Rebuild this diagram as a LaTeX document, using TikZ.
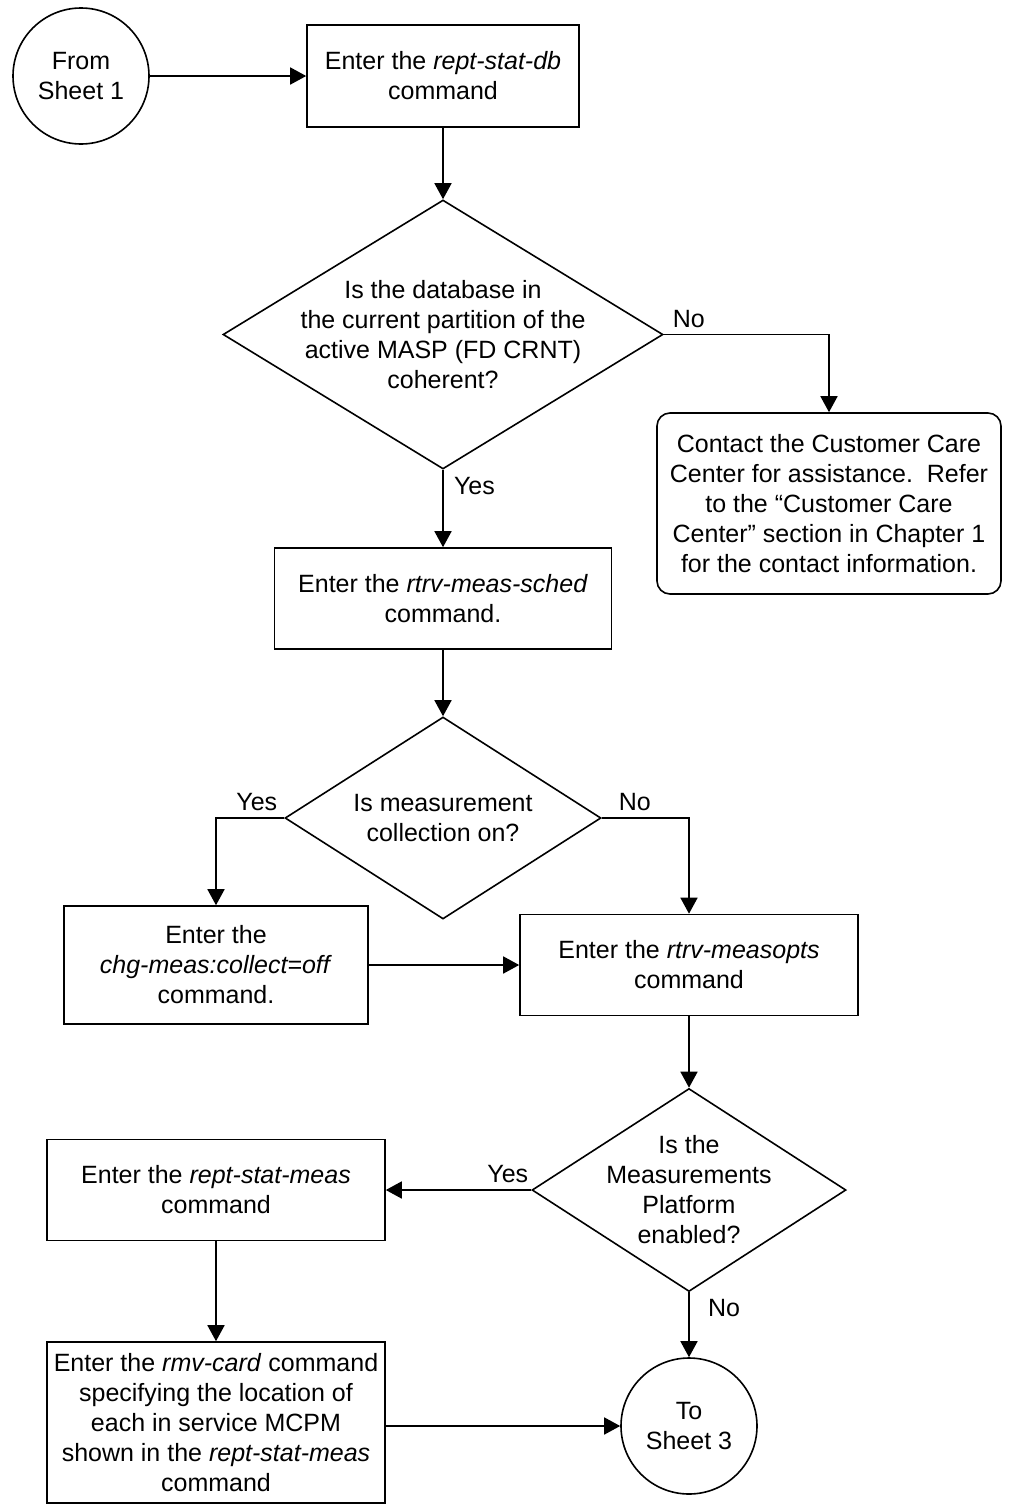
\documentclass[tikz,border=0pt]{standalone}
\usepackage{fontspec}
\setmainfont{Liberation Sans}
\usetikzlibrary{shapes.geometric,arrows.meta}

\begin{document}
\begin{tikzpicture}[x=0.5pt,y=-0.5pt,
		every node/.style={font=\fontsize{12.5}{15}\selectfont},
		box/.style={draw,rectangle,line width=0.8pt,align=center,inner sep=0pt},
		decision/.style={draw,diamond,line width=0.8pt,inner sep=0pt},
		term/.style={draw,circle,line width=0.8pt,minimum size=68pt,inner sep=0pt,align=center},
		txt/.style={align=center,inner sep=0pt},
		arr/.style={-{Triangle[length=8pt,width=8.5pt]},line width=0.8pt}]
				\useasboundingbox (0,0) rectangle (1008,1505);
				
				% Start and first command
				\node[term] (from1) at (81,76) {From\\Sheet 1};
				\node[box,minimum width=136pt,minimum height=51pt] (dbcmd) at (443,76) {Enter the \textit{rept-stat-db}\\command};
				
				% Is the database coherent
				\node[decision,minimum width=220pt,minimum height=134.5pt] (coher) at (443,334.5) {};
				\node[txt] (coherq) at (coher) {Is the database in\\the current partition of the\\active MASP (FD CRNT)\\coherent?};
				\node[box,rounded corners=6.5pt,minimum width=172pt,minimum height=90.5pt] (care) at (829,503.5) {Contact the Customer Care\\Center for assistance.\ \ Refer\\to the “Customer Care\\Center” section in Chapter 1\\for the contact information.};
				\node[box,minimum width=168.5pt,minimum height=50.5pt] (sched) at (443,598.5) {Enter the \textit{rtrv-meas-sched}\\command.};
				
				% Measurement collection
				\node[decision,minimum width=158pt,minimum height=101pt] (collon) at (443,818) {};
				\node[txt] (collonq) at (collon) {Is measurement\\collection on?};
				\node[box,minimum width=152pt,minimum height=59pt] (colloff) at (216,965) {Enter the\\\textit{chg-meas:collect=off}\\command.};
				\node[box,minimum width=169pt,minimum height=50.5pt] (measopts) at (689,965) {Enter the \textit{rtrv-measopts}\\command};
				
				% Measurements Platform
				\node[decision,minimum width=157pt,minimum height=101.5pt] (mpen) at (689,1190) {};
				\node[txt] (mpenq) at (mpen) {Is the\\Measurements\\Platform\\enabled?};
				\node[box,minimum width=169pt,minimum height=50.5pt] (statmeas) at (216,1190) {Enter the \textit{rept-stat-meas}\\command};
				\node[box,minimum width=169pt,minimum height=80.5pt] (rmvcard) at (216,1422.5) {Enter the \textit{rmv-card} command\\specifying the location of\\each in service MCPM\\shown in the \textit{rept-stat-meas}\\command};
				\node[term] (to3) at (689,1426) {To\\Sheet 3};
				
				% Yes / No labels
				\node[anchor=south west] (no1) at ([xshift=1pt]coher.east) {No};
				\node[anchor=north west] (yes1) at ([xshift=2pt]coher.south) {Yes};
				\node[anchor=south east] (yes2) at (collon.west) {Yes};
				\node[anchor=south west] (no2) at ([xshift=5pt]collon.east) {No};
				\node[anchor=south east] (yes3) at ([xshift=2pt]mpen.west) {Yes};
				\node[anchor=north west] (no3) at ([xshift=6pt]mpen.south) {No};
				
				% Connectors
				\draw[arr] (from1) -- (dbcmd);
				\draw[arr] (dbcmd) -- (coher);
				\draw[arr] (coher.east) -| (care.north);
				\draw[arr] (coher) -- (sched);
				\draw[arr] (sched) -- (collon);
				\draw[arr] (collon.west) -| (colloff.north);
				\draw[arr] (collon.east) -| (measopts.north);
				\draw[arr] (colloff) -- (measopts);
				\draw[arr] (measopts) -- (mpen);
				\draw[arr] (mpen) -- (statmeas);
				\draw[arr] (mpen) -- (to3);
				\draw[arr] (statmeas) -- (rmvcard);
				\draw[arr] (rmvcard.east |- to3) -- (to3);
			\end{tikzpicture}
\end{document}
